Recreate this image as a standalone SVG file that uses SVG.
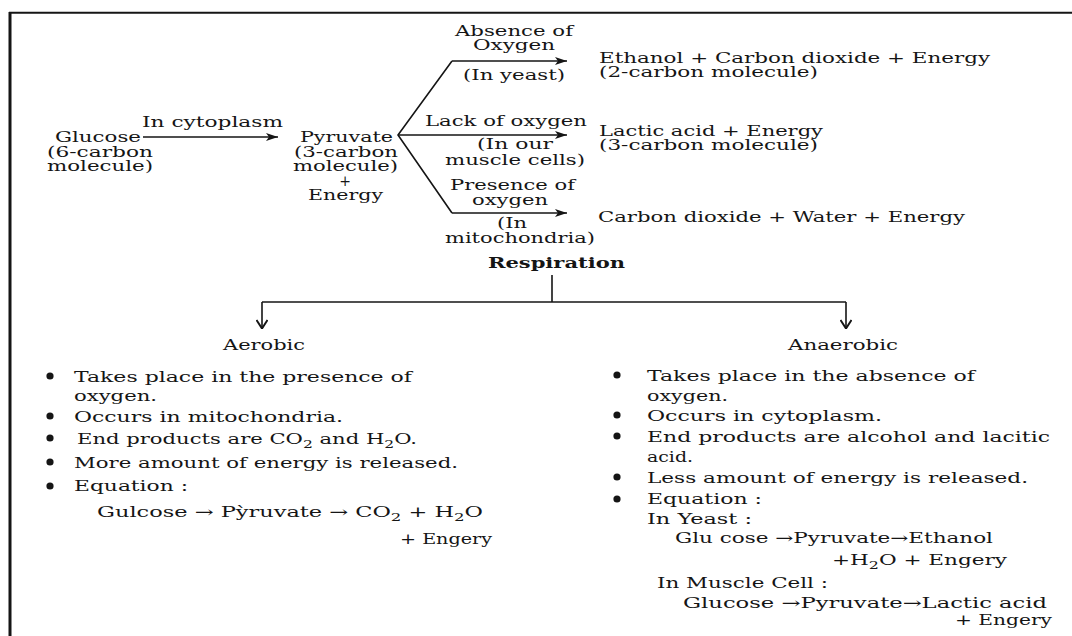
<svg xmlns="http://www.w3.org/2000/svg" width="1072" height="636" viewBox="0 0 1072 636">
<style>
.t{font-family:"DejaVu Serif","Liberation Serif",serif;font-size:14px;fill:#151515}
.b{font-size:15px}
.bold{font-weight:bold}
.ln{stroke:#151515;stroke-width:1.6;fill:none}
.dot{fill:#151515}
</style>
<defs>
<marker id="ah" viewBox="0 0 12 8" refX="12" refY="4" markerWidth="12" markerHeight="8" markerUnits="userSpaceOnUse" orient="auto"><path d="M0,0 L12,4 L0,8 L3,4 z" fill="#151515"/></marker>
<marker id="dv" viewBox="0 0 10 12" refX="10" refY="6" markerWidth="10" markerHeight="12" markerUnits="userSpaceOnUse" orient="auto"><path d="M1,0.5 L9.5,6 L1,11.5" fill="none" stroke="#151515" stroke-width="2"/></marker>
</defs>
<rect width="1072" height="636" fill="#fff"/>
<g id="frame">
<line x1="9" y1="12.8" x2="1072" y2="12.8" stroke="#151515" stroke-width="2"/>
<line x1="10" y1="12" x2="10" y2="636" stroke="#151515" stroke-width="3"/>
</g>
<g id="connectors">
<line class="ln" x1="143" y1="137" x2="278" y2="137" marker-end="url(#ah)"/>
<path class="ln" d="M452,61 L398,135 L452,213"/>
<line class="ln" x1="452" y1="61" x2="567" y2="61" marker-end="url(#ah)"/>
<line class="ln" x1="398" y1="135" x2="567" y2="135" marker-end="url(#ah)"/>
<line class="ln" x1="452" y1="213" x2="567" y2="213" marker-end="url(#ah)"/>
<line class="ln" x1="552" y1="275" x2="552" y2="302" stroke-width="2"/>
<line class="ln" x1="262" y1="302" x2="846" y2="302"/>
<line class="ln" x1="262" y1="302" x2="262" y2="329" marker-end="url(#dv)"/>
<line class="ln" x1="846" y1="302" x2="846" y2="329" marker-end="url(#dv)"/>
</g>
<g id="glucose">
<text class="t" x="55" y="142" textLength="86" lengthAdjust="spacingAndGlyphs">Glucose</text>
<text class="t" x="47" y="157" textLength="106" lengthAdjust="spacingAndGlyphs">(6-carbon</text>
<text class="t" x="47" y="171" textLength="106" lengthAdjust="spacingAndGlyphs">molecule)</text>
</g>
<g id="label-cytoplasm">
<text class="t" x="142" y="127" textLength="141" lengthAdjust="spacingAndGlyphs">In cytoplasm</text>
</g>
<g id="pyruvate">
<text class="t" x="300" y="142" textLength="93" lengthAdjust="spacingAndGlyphs">Pyruvate</text>
<text class="t" x="294" y="157" textLength="104" lengthAdjust="spacingAndGlyphs">(3-carbon</text>
<text class="t" x="293" y="171" textLength="105" lengthAdjust="spacingAndGlyphs">molecule)</text>
<text class="t" x="345" y="186" text-anchor="middle" font-size="10">+</text>
<text class="t" x="308" y="200" textLength="75" lengthAdjust="spacingAndGlyphs">Energy</text>
</g>
<g id="label-absence">
<text class="t" x="455" y="36" textLength="118" lengthAdjust="spacingAndGlyphs">Absence of</text>
<text class="t" x="473" y="50" textLength="82" lengthAdjust="spacingAndGlyphs">Oxygen</text>
<text class="t" x="463" y="80" textLength="102" lengthAdjust="spacingAndGlyphs">(In yeast)</text>
</g>
<g id="label-lack">
<text class="t" x="425" y="126" textLength="162" lengthAdjust="spacingAndGlyphs">Lack of oxygen</text>
<text class="t" x="477" y="149" textLength="76" lengthAdjust="spacingAndGlyphs">(In our</text>
<text class="t" x="445" y="165" textLength="140" lengthAdjust="spacingAndGlyphs">muscle cells)</text>
</g>
<g id="label-presence">
<text class="t" x="450" y="190" textLength="125" lengthAdjust="spacingAndGlyphs">Presence of</text>
<text class="t" x="472" y="205" textLength="76" lengthAdjust="spacingAndGlyphs">oxygen</text>
<text class="t" x="497" y="228" textLength="30" lengthAdjust="spacingAndGlyphs">(In</text>
<text class="t" x="445" y="243" textLength="150" lengthAdjust="spacingAndGlyphs">mitochondria)</text>
</g>
<g id="product-ethanol">
<text class="t" x="599" y="63" textLength="391" lengthAdjust="spacingAndGlyphs">Ethanol + Carbon dioxide + Energy</text>
<text class="t" x="599" y="77" textLength="219" lengthAdjust="spacingAndGlyphs">(2-carbon molecule)</text>
</g>
<g id="product-lactic">
<text class="t" x="599" y="136" textLength="224" lengthAdjust="spacingAndGlyphs">Lactic acid + Energy</text>
<text class="t" x="599" y="150" textLength="219" lengthAdjust="spacingAndGlyphs">(3-carbon molecule)</text>
</g>
<g id="product-co2">
<text class="t" x="598" y="222" textLength="367" lengthAdjust="spacingAndGlyphs">Carbon dioxide + Water + Energy</text>
</g>
<g id="respiration">
<text class="t bold" x="488" y="268" textLength="137" lengthAdjust="spacingAndGlyphs">Respiration</text>
</g>
<g id="aerobic">
<text class="t b" x="223" y="350" textLength="82" lengthAdjust="spacingAndGlyphs">Aerobic</text>
<circle class="dot" cx="50" cy="376" r="3.6"/>
<circle class="dot" cx="50" cy="416" r="3.6"/>
<circle class="dot" cx="50" cy="438" r="3.6"/>
<circle class="dot" cx="50" cy="462" r="3.6"/>
<circle class="dot" cx="50" cy="486" r="3.6"/>
<text class="t b" x="74" y="382" textLength="338" lengthAdjust="spacingAndGlyphs">Takes place in the presence of</text>
<text class="t b" x="74" y="401" textLength="83" lengthAdjust="spacingAndGlyphs">oxygen.</text>
<text class="t b" x="74" y="422" textLength="269" lengthAdjust="spacingAndGlyphs">Occurs in mitochondria.</text>
<text class="t b" x="77" y="444" textLength="340" lengthAdjust="spacingAndGlyphs">End products are CO<tspan font-size="11" dy="4">2</tspan><tspan dy="-4"> and H</tspan><tspan font-size="11" dy="4">2</tspan><tspan dy="-4">O.</tspan></text>
<text class="t b" x="74" y="468" textLength="384" lengthAdjust="spacingAndGlyphs">More amount of energy is released.</text>
<text class="t b" x="74" y="491" textLength="114" lengthAdjust="spacingAndGlyphs">Equation :</text>
<text class="t b" x="97" y="517" textLength="386" lengthAdjust="spacingAndGlyphs">Gulcose → Pỳruvate → CO<tspan font-size="11" dy="4">2</tspan><tspan dy="-4"> + H</tspan><tspan font-size="11" dy="4">2</tspan><tspan dy="-4">O</tspan></text>
<text class="t b" x="400" y="544" textLength="92" lengthAdjust="spacingAndGlyphs">+ Engery</text>
</g>
<g id="anaerobic">
<text class="t b" x="788" y="350" textLength="110" lengthAdjust="spacingAndGlyphs">Anaerobic</text>
<circle class="dot" cx="617" cy="375" r="3.6"/>
<circle class="dot" cx="617" cy="415" r="3.6"/>
<circle class="dot" cx="617" cy="436" r="3.6"/>
<circle class="dot" cx="617" cy="477" r="3.6"/>
<circle class="dot" cx="617" cy="499" r="3.6"/>
<text class="t b" x="647" y="381" textLength="328" lengthAdjust="spacingAndGlyphs">Takes place in the absence of</text>
<text class="t b" x="647" y="401" textLength="81" lengthAdjust="spacingAndGlyphs">oxygen.</text>
<text class="t b" x="647" y="421" textLength="235" lengthAdjust="spacingAndGlyphs">Occurs in cytoplasm.</text>
<text class="t b" x="647" y="442" textLength="403" lengthAdjust="spacingAndGlyphs">End products are alcohol and lacitic</text>
<text class="t b" x="647" y="462" textLength="46" lengthAdjust="spacingAndGlyphs">acid.</text>
<text class="t b" x="647" y="483" textLength="381" lengthAdjust="spacingAndGlyphs">Less amount of energy is released.</text>
<text class="t b" x="647" y="504" textLength="115" lengthAdjust="spacingAndGlyphs">Equation :</text>
<text class="t b" x="647" y="524" textLength="105" lengthAdjust="spacingAndGlyphs">In Yeast :</text>
<text class="t b" x="675" y="543" textLength="318" lengthAdjust="spacingAndGlyphs">Glu cose →Pyruvate→Ethanol</text>
<text class="t b" x="832" y="565" textLength="175" lengthAdjust="spacingAndGlyphs">+H<tspan font-size="11" dy="4">2</tspan><tspan dy="-4">O + Engery</tspan></text>
<text class="t b" x="657" y="588" textLength="171" lengthAdjust="spacingAndGlyphs">In Muscle Cell :</text>
<text class="t b" x="683" y="608" textLength="364" lengthAdjust="spacingAndGlyphs">Glucose →Pyruvate→Lactic acid</text>
<text class="t b" x="955" y="625" textLength="97" lengthAdjust="spacingAndGlyphs">+ Engery</text>
</g>
</svg>
